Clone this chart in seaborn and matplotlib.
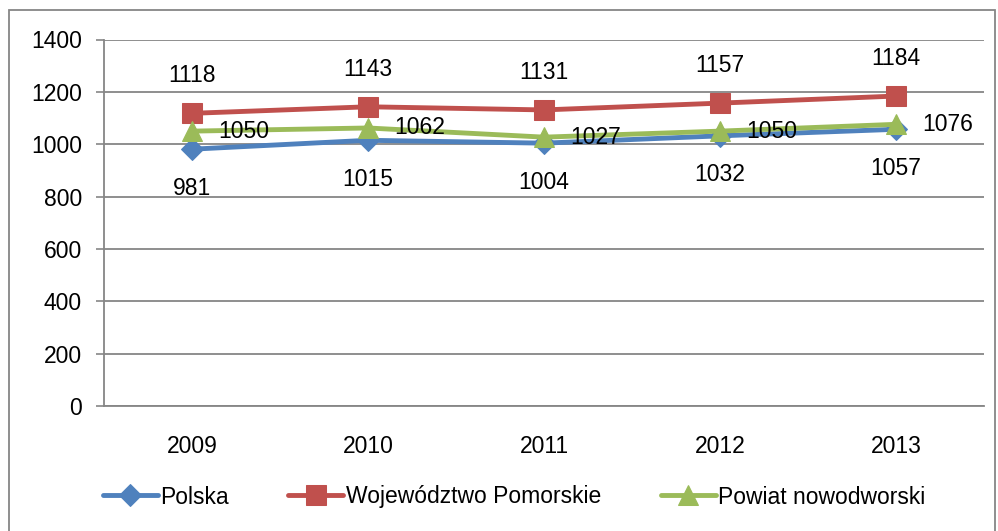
import matplotlib
matplotlib.use("Agg")
import matplotlib.pyplot as plt
from matplotlib.patches import Rectangle
import pandas as pd
import seaborn as sns

years = ["2009", "2010", "2011", "2012", "2013"]
polska = [981, 1015, 1004, 1032, 1057]
pomorskie = [1118, 1143, 1131, 1157, 1184]
nowodworski = [1050, 1062, 1027, 1050, 1076]
series_names = ["Polska", "Województwo Pomorskie", "Powiat nowodworski"]
y_ticks = [0, 200, 400, 600, 800, 1000, 1200, 1400]

sns.set_theme(style="white")
plt.rcParams["font.family"] = ["Liberation Sans", "DejaVu Sans"]
plt.rcParams["text.color"] = "black"
plt.rcParams["xtick.color"] = "black"
plt.rcParams["ytick.color"] = "black"

W, H = 998, 531
fig = plt.figure(figsize=(W / 100, H / 100), dpi=100)
ax = fig.add_axes([104 / W, 1 - 406 / H, (984 - 104) / W, (406 - 39.5) / H])

pos = list(range(len(years)))
frames = []
for name, vals in zip(series_names, [polska, pomorskie, nowodworski]):
    frames.append(pd.DataFrame({"pos": pos, "value": vals, "series": name}))
df = pd.concat(frames, ignore_index=True)

colors = {"Polska": "#4F81BD", "Województwo Pomorskie": "#C0504D",
          "Powiat nowodworski": "#9BBB59"}
markers = {"Polska": "D", "Województwo Pomorskie": "s", "Powiat nowodworski": "^"}
msize = {"Polska": 11, "Województwo Pomorskie": 14, "Powiat nowodworski": 15}

for name in series_names:
    sub = df[df["series"] == name]
    sns.lineplot(data=sub, x="pos", y="value", ax=ax, color=colors[name],
                 marker=markers[name], markersize=msize[name], linewidth=3.5,
                 markeredgecolor=colors[name], label=name, zorder=3)

fs = 16.5
# value labels
for x, v in zip(pos, polska):
    ax.annotate(str(v), (x, v), xytext=(0, -28), textcoords="offset points",
                ha="center", va="center", fontsize=fs, color="black")
for x, v in zip(pos, pomorskie):
    ax.annotate(str(v), (x, v), xytext=(0, 27), textcoords="offset points",
                ha="center", va="center", fontsize=fs, color="black")
for x, v in zip(pos, nowodworski):
    ax.annotate(str(v), (x, v), xytext=(19, 0), textcoords="offset points",
                ha="left", va="center", fontsize=fs, color="black")

grid_c = "#868686"
ax.set_xlim(-0.5, len(years) - 0.5)
ax.set_ylim(0, 1400)
ax.set_yticks(y_ticks)
ax.set_yticklabels([str(t) for t in y_ticks], fontsize=fs)
ax.yaxis.grid(True, color=grid_c, linewidth=1.3)
ax.xaxis.grid(False)
ax.set_xticks(pos)
ax.set_xticklabels(years, fontsize=fs)
ax.set_xticks([p - 0.5 for p in pos] + [len(years) - 0.5], minor=True)
ax.tick_params(axis="x", which="major", length=0, pad=21)
ax.tick_params(axis="x", which="minor", length=6, width=1.2, color=grid_c, direction="out")
ax.tick_params(axis="y", length=6, width=1.2, color=grid_c, labelcolor="black",
               direction="out", left=True, pad=10)
ax.set_xlabel("")
ax.set_ylabel("")
for s in ["top", "right"]:
    ax.spines[s].set_visible(False)
for s in ["left", "bottom"]:
    ax.spines[s].set_color(grid_c)
    ax.spines[s].set_linewidth(1.3)

leg = ax.legend(loc="center", bbox_to_anchor=(0.515, 1 - 497 / H), bbox_transform=fig.transFigure,
                ncol=3, frameon=False, fontsize=fs, handlelength=2.4, handletextpad=0.1,
                columnspacing=2.6)
for t in leg.get_texts():
    t.set_color("black")

fig.patches.append(Rectangle((9 / W, -0.01), (995 - 9) / W, 1 - 10 / H + 0.01,
                             transform=fig.transFigure, fill=False,
                             edgecolor=grid_c, linewidth=1.3))

fig.savefig("out.png", dpi=100, facecolor="white")
